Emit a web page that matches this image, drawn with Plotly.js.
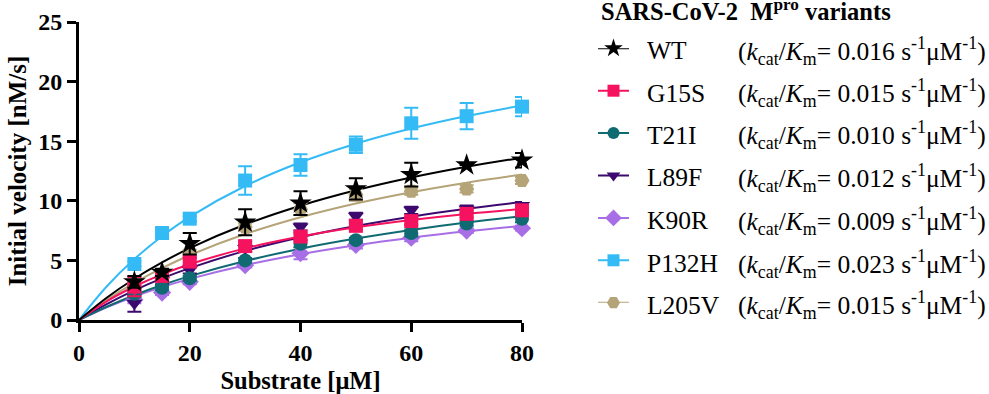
<!DOCTYPE html>
<html>
<head>
<meta charset="utf-8">
<script src="https://cdn.plot.ly/plotly-3.0.1.min.js"></script>
<style>html,body{margin:0;padding:0;background:#fff;}#chart{width:989px;height:394px;}</style>
</head>
<body>
<div id="chart"></div>
<script>
// Substrate concentrations (µM) for measured points
const substrate = [10, 15, 20, 30, 40, 50, 60, 70, 80];
// Fitted-curve sample positions (µM)
const curveX = [0, 5, 10, 15, 20, 30, 40, 50, 60, 70, 80];

const variants = ["WT", "G15S", "T21I", "L89F", "K90R", "P132H", "L205V"];
const kcatKm = ["0.016", "0.015", "0.010", "0.012", "0.009", "0.023", "0.015"];
const xTicks = [0, 20, 40, 60, 80];
const yTicks = [0, 5, 10, 15, 20, 25];

// Measured initial velocities (nM/s)
const vWT    = [3.2, 4.0, 6.4, 8.2, 9.8, 11.0, 12.2, 13.0, 13.4];
const vG15S  = [2.8, 3.7, 4.9, 6.2, 7.0, 7.9, 8.3, 8.9, 9.2];
const vT21I  = [2.2, 2.7, 3.5, 5.0, 6.4, 6.7, 7.3, 8.1, 8.5];
const vL89F  = [1.4, 3.3, 4.2, 6.0, 7.8, 8.7, 9.2, 9.3, 9.6];
const vK90R  = [1.7, 2.3, 3.2, 4.6, 5.6, 6.3, 6.9, 7.5, 7.7];
const vP132H = [4.7, 7.3, 8.5, 11.7, 13.0, 14.7, 16.5, 17.1, 17.9];
const vL205V = [2.9, 3.7, 5.6, 7.8, 9.3, 10.5, 10.8, 11.0, 11.7];

// Error bars (nM/s)
const eWT    = [0.5, 0.3, 0.9, 1.1, 1.0, 0.9, 1.0, 0.0, 0.6];
const eG15S  = [0.8, 0.4, 0.3, 0.4, 0.3, 0.3, 0.3, 0.3, 0.4];
const eT21I  = [0.3, 0.2, 0.2, 0.2, 0.3, 0.2, 0.3, 0.2, 0.3];
const eL89F  = [0.7, 0.3, 0.3, 0.3, 0.3, 0.3, 0.3, 0.3, 0.3];
const eK90R  = [0.3, 0.2, 0.2, 0.2, 0.5, 0.3, 0.3, 0.2, 0.2];
const eP132H = [0.2, 0.2, 0.2, 1.2, 0.9, 0.7, 1.3, 1.1, 0.8];
const eL205V = [0.2, 0.2, 0.3, 0.3, 0.5, 0.5, 0.3, 0.3, 0.3];

// Fitted curves (nM/s)
const fWT    = [0, 1.87, 3.46, 4.83, 6.03, 8.01, 9.59, 10.88, 11.95, 12.85, 13.62];
const fG15S  = [0, 1.57, 2.81, 3.83, 4.68, 6.01, 7.00, 7.78, 8.39, 8.90, 9.31];
const fT21I  = [0, 1.11, 2.08, 2.93, 3.68, 4.95, 5.98, 6.83, 7.55, 8.17, 8.70];
const fL89F  = [0, 1.34, 2.49, 3.49, 4.35, 5.80, 6.95, 7.89, 8.67, 9.33, 9.90];
const fK90R  = [0, 1.06, 1.97, 2.76, 3.45, 4.60, 5.52, 6.27, 6.90, 7.44, 7.90];
const fP132H = [0, 2.81, 5.11, 7.03, 8.65, 11.24, 13.23, 14.79, 16.06, 17.11, 18.00];
const fL205V = [0, 1.69, 3.12, 4.35, 5.43, 7.21, 8.62, 9.77, 10.72, 11.52, 12.20];

const vals = [vWT, vG15S, vT21I, vL89F, vK90R, vP132H, vL205V];
const errs = [eWT, eG15S, eT21I, eL89F, eK90R, eP132H, eL205V];
const fits = [fWT, fG15S, fT21I, fL89F, fK90R, fP132H, fL205V];

const colors = ["#000000", "#f5125e", "#0f6a72", "#3c0a6e", "#a86ee6", "#34bbf6", "#b5a478"];
const symbols = ["star", "square", "circle", "triangle-down", "diamond", "square", "hexagon2"];
const sizes = [17, 14, 14, 14, 14, 14, 15];
const legendSizes = [14, 12, 12, 12, 13, 12, 13];
// drawing order (bottom to top)
const drawOrder = [6, 4, 3, 2, 1, 5, 0];

const W = 989, H = 394;
const px = v => v / W, py = v => 1 - v / H;

const traces = [];
drawOrder.forEach(i => {
  traces.push({
    x: curveX, y: fits[i], mode: "lines", type: "scatter",
    line: {color: colors[i], width: 2, shape: "spline"},
    showlegend: false, hoverinfo: "skip", cliponaxis: false
  });
});
drawOrder.forEach(i => {
  traces.push({
    x: substrate, y: vals[i], mode: "markers", type: "scatter",
    marker: {color: colors[i], symbol: symbols[i], size: sizes[i], line: {width: 0}},
    error_y: {type: "data", array: errs[i], visible: true, color: colors[i], thickness: 2, width: 7},
    showlegend: false, cliponaxis: false
  });
});
// legend glyphs on a hidden helper axis: row = variant index
variants.forEach((name, i) => {
  traces.push({
    x: [0, 2], y: [i, i], xaxis: "x2", yaxis: "y2", mode: "lines", type: "scatter",
    line: {color: colors[i], width: 2}, showlegend: false, cliponaxis: false, hoverinfo: "skip"
  });
  traces.push({
    x: [1], y: [i], xaxis: "x2", yaxis: "y2", mode: "markers", type: "scatter",
    marker: {color: colors[i], symbol: symbols[i], size: legendSizes[i], line: {width: 0}},
    showlegend: false, cliponaxis: false, hoverinfo: "skip"
  });
});

const serif = "Liberation Serif";
const rowPx = [48.3, 90.7, 132.7, 175, 218.3, 261, 302.7];
const annotations = [{
  xref: "paper", yref: "paper", x: px(599), y: py(10),
  xanchor: "left", yanchor: "middle", showarrow: false,
  text: "<b>SARS-CoV-2  M<sup>pro</sup> variants</b>",
  font: {family: serif, size: 24.5, color: "#000"}
}];
variants.forEach((name, i) => {
  annotations.push({
    xref: "paper", yref: "paper", x: px(645), y: py(rowPx[i] + 2.5),
    xanchor: "left", yanchor: "middle", showarrow: false,
    text: name, font: {family: serif, size: 25.5, color: "#000"}
  });
  annotations.push({
    xref: "paper", yref: "paper", x: px(736), y: py(rowPx[i] + 2.5),
    xanchor: "left", yanchor: "middle", showarrow: false,
    text: "(<i>k</i><sub>cat</sub>/<i>K</i><sub>m</sub>= " + kcatKm[i] + " s<sup>-1</sup>μM<sup>-1</sup>)",
    font: {family: serif, size: 25.5, color: "#000"}
  });
});

const layout = {
  width: W, height: H,
  margin: {l: 0, r: 0, t: 0, b: 0, pad: 0, autoexpand: false},
  paper_bgcolor: "#fff", plot_bgcolor: "#fff",
  font: {family: serif, color: "#000"},
  showlegend: false,
  xaxis: {
    domain: [px(79), px(522)], anchor: "y",
    range: [0, 80], tickvals: xTicks,
    showgrid: false, zeroline: false, showline: true, linewidth: 3, linecolor: "#000",
    ticks: "outside", ticklen: 9, tickwidth: 3, tickcolor: "#000",
    tickfont: {family: serif, size: 24, weight: "bold", color: "#000"},
    title: {text: "<b>Substrate [μM]</b>", font: {family: serif, size: 24.5, color: "#000"}, standoff: 19}
  },
  yaxis: {
    domain: [py(320), py(22)], anchor: "x",
    range: [0, 25], tickvals: yTicks,
    showgrid: false, zeroline: false, showline: true, linewidth: 3, linecolor: "#000",
    ticks: "outside", ticklen: 9, tickwidth: 3, tickcolor: "#000",
    tickfont: {family: serif, size: 24, weight: "bold", color: "#000"},
    title: {text: "<b>Initial velocity [nM/s]</b>", font: {family: serif, size: 25, color: "#000"}, standoff: 5}
  },
  xaxis2: {domain: [px(598), px(629)], anchor: "y2", range: [0, 2], visible: false, fixedrange: true},
  yaxis2: {domain: [py(rowPx[6]), py(rowPx[0])], anchor: "x2", range: [6, 0], visible: false, fixedrange: true},
  annotations: annotations
};

Plotly.newPlot("chart", traces, layout, {displayModeBar: false, staticPlot: true});
</script>
</body>
</html>
